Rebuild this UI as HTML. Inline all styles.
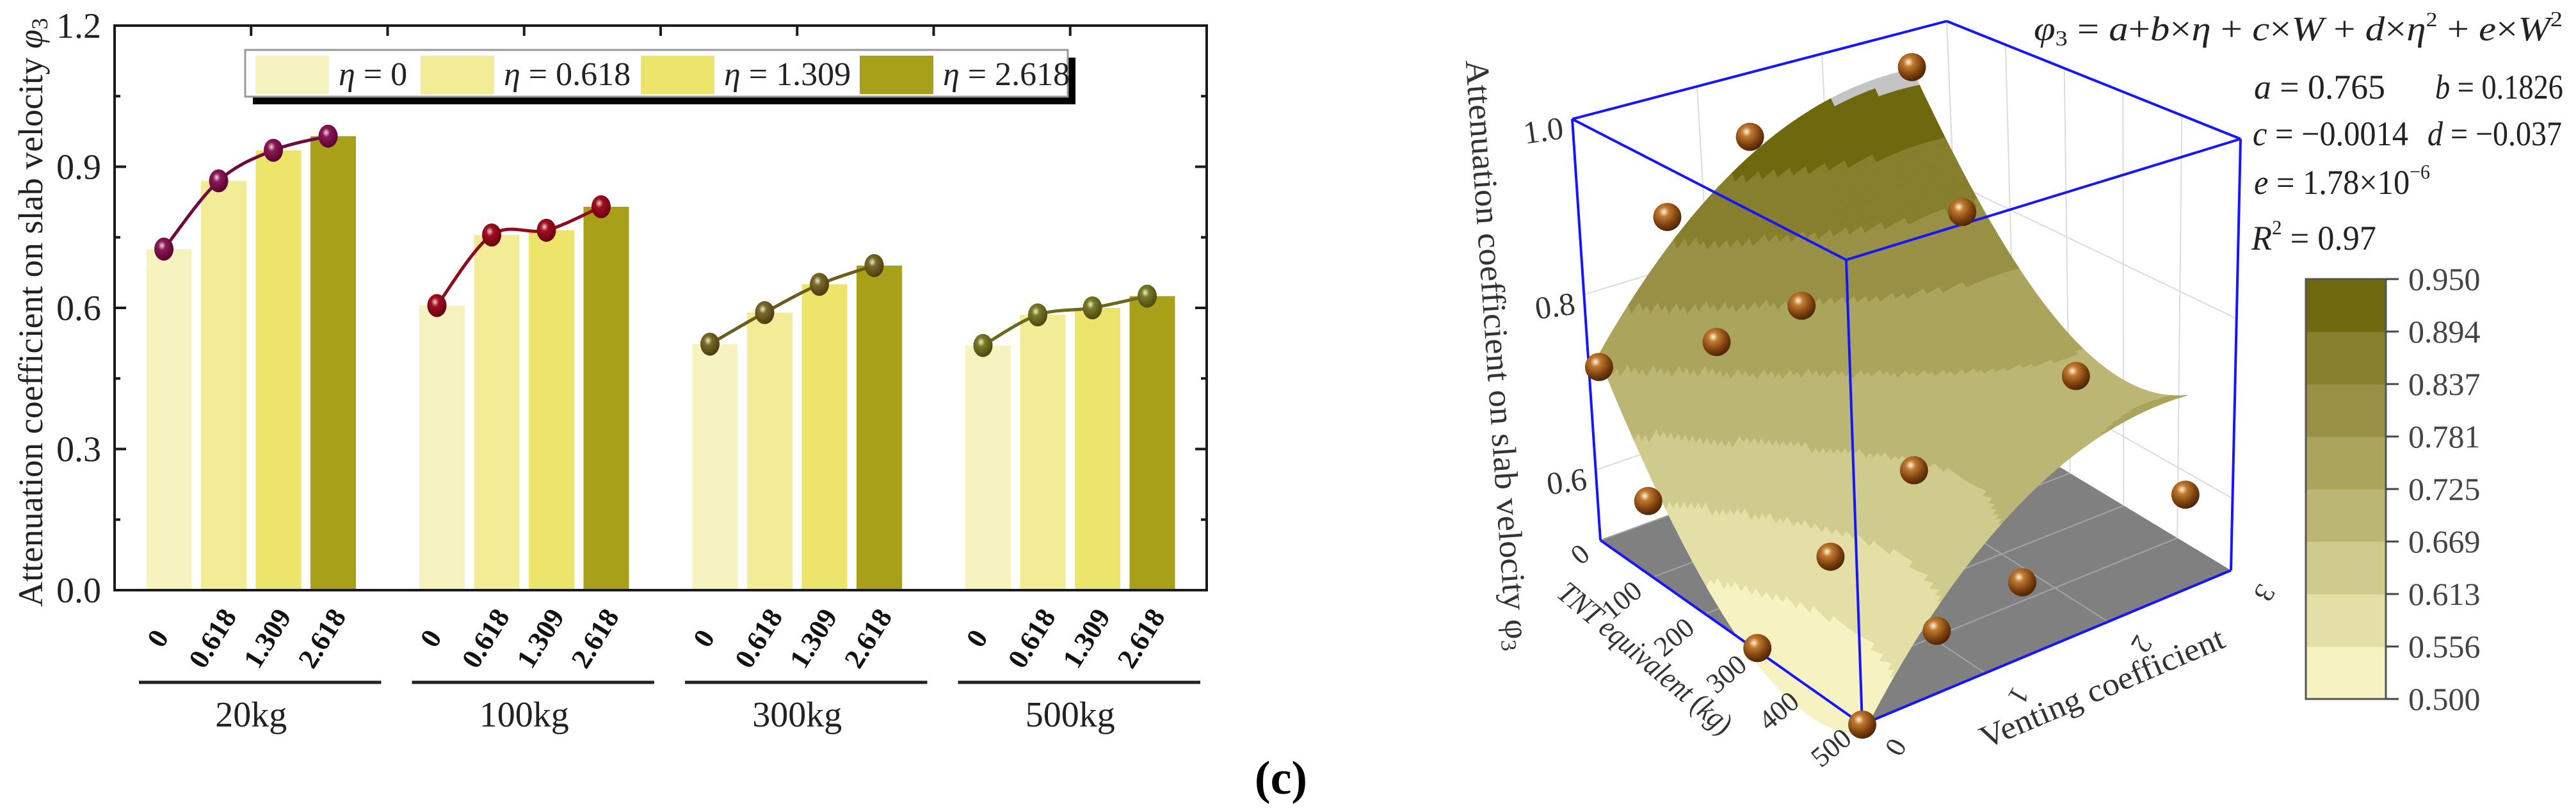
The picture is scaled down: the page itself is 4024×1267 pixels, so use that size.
<!DOCTYPE html>
<html><head><meta charset="utf-8">
<style>
html,body{margin:0;padding:0;background:#fff;}
svg{display:block;}
text{font-family:"Liberation Serif",serif;}
</style></head>
<body>
<svg id="fig" width="4024" height="1267" viewBox="0 0 4024 1267" xmlns="http://www.w3.org/2000/svg">
<defs>
<radialGradient id="gPurple" cx="0.4" cy="0.35" r="0.65"><stop offset="0" stop-color="#f0d8e4"/><stop offset="0.3" stop-color="#8a1a55"/><stop offset="1" stop-color="#5a0030"/></radialGradient>
<radialGradient id="gRed" cx="0.4" cy="0.35" r="0.65"><stop offset="0" stop-color="#f5d0d0"/><stop offset="0.3" stop-color="#a01020"/><stop offset="1" stop-color="#6a0010"/></radialGradient>
<radialGradient id="gBrown" cx="0.4" cy="0.35" r="0.65"><stop offset="0" stop-color="#f0ead0"/><stop offset="0.3" stop-color="#7a6a28"/><stop offset="1" stop-color="#4a3c10"/></radialGradient>
<radialGradient id="gOlive" cx="0.4" cy="0.35" r="0.65"><stop offset="0" stop-color="#f0f0d0"/><stop offset="0.3" stop-color="#7a7a28"/><stop offset="1" stop-color="#4a4a10"/></radialGradient>
<radialGradient id="gSphere" cx="0.38" cy="0.32" r="0.7"><stop offset="0" stop-color="#fff4dc"/><stop offset="0.25" stop-color="#c07a30"/><stop offset="0.7" stop-color="#7a3e0c"/><stop offset="1" stop-color="#4a2404"/></radialGradient>
</defs>
<g id="left"></g>
<g id="right"></g>
<text x="2001" y="1240" font-size="74" font-weight="bold" text-anchor="middle">(c)</text>
</svg>
<script>
// ---------- Left bar chart data ----------
const groups = ["20kg","100kg","300kg","500kg"];
const etaLabels = ["0","0.618","1.309","2.618"];
const legendLabels = ["η = 0","η = 0.618","η = 1.309","η = 2.618"];
const s20 = [0.725,0.870,0.935,0.965];
const s100 = [0.605,0.755,0.765,0.815];
const s300 = [0.523,0.590,0.650,0.690];
const s500 = [0.520,0.585,0.600,0.625];
const yTicks = [0,0.3,0.6,0.9,1.2];
const yTickLabels = ["0.0","0.3","0.6","0.9","1.2"];

const NS="http://www.w3.org/2000/svg";
function mk(tag,attrs,parent){const e=document.createElementNS(NS,tag);for(const k in attrs)e.setAttribute(k,attrs[k]);if(parent)parent.appendChild(e);return e;}

const L=document.getElementById('left');
const X0=179,X1=1885,YT=40,YB=922,YMAX=1.2;
const band=(X1-X0)/groups.length, bw=71, pitch=85.5;
function yS(v){return YB-v/YMAX*(YB-YT);}
function xBar(g,i){return X0+g*band+band/2+(i-1.5)*pitch;}
const barColors=["#f7f3c0","#f2ec97","#ede46c","#a8a018"];
const lineColors=["#6e0a40","#8e0c1c","#6e5a1e","#6a6a18"];
const markGrads=["url(#gPurple)","url(#gRed)","url(#gBrown)","url(#gOlive)"];
const series=[s20,s100,s300,s500];

series.forEach((vals,g)=>{
  vals.forEach((v,i)=>{
    const r=mk('rect',{x:xBar(g,i)-bw/2,y:yS(v),width:bw,height:YB-yS(v),fill:barColors[i]},L);
    
    
  });
});
const fr=mk('rect',{x:X0,y:YT,width:X1-X0,height:YB-YT,fill:'none',stroke:'#1a1a1a','stroke-width':4},L);


for(let k=0;k<=8;k++){
  const v=k*0.15, y=yS(v), len=(k%2===0)?18:9;
  mk('line',{x1:X0,y1:y,x2:X0+len,y2:y,stroke:'#1a1a1a','stroke-width':4},L);
  mk('line',{x1:X1,y1:y,x2:X1-len,y2:y,stroke:'#1a1a1a','stroke-width':4},L);
}
yTicks.forEach((v,i)=>{
  const t=mk('text',{x:158,y:yS(v)+19,'font-size':56,'text-anchor':'end',fill:'#222'},L);
  t.textContent=yTickLabels[i];
  
  
});
for(let k=1;k<8;k++){const x=X0+k*band/2;mk('line',{x1:x,y1:YT,x2:x,y2:YT+16,stroke:'#1a1a1a','stroke-width':4},L);}
const yt=mk('text',{x:0,y:0,'font-size':54,'text-anchor':'middle',transform:'translate(66,488) rotate(-90)',textLength:920,lengthAdjust:'spacingAndGlyphs',fill:'#222'},L);
yt.innerHTML='Attenuation coefficient on slab velocity <tspan font-style="italic">φ</tspan><tspan font-size="36" dy="8">3</tspan>';


function smoothPath(pts){let d='M'+pts[0][0]+','+pts[0][1];for(let i=0;i<pts.length-1;i++){const p0=pts[Math.max(0,i-1)],p1=pts[i],p2=pts[i+1],p3=pts[Math.min(pts.length-1,i+2)];const c1=[p1[0]+(p2[0]-p0[0])/6,p1[1]+(p2[1]-p0[1])/6],c2=[p2[0]-(p3[0]-p1[0])/6,p2[1]-(p3[1]-p1[1])/6];d+=' C'+c1+' '+c2+' '+p2;}return d;}
series.forEach((vals,g)=>{
  const pts=vals.map((v,i)=>[xBar(g,i)-8,yS(v)]);
  const p=mk('path',{d:smoothPath(pts),fill:'none',stroke:lineColors[g],'stroke-width':5},L);
  
  
  pts.forEach((q,i)=>{
    const c=mk('ellipse',{cx:q[0],cy:q[1],rx:15,ry:18,fill:markGrads[g]},L);
    
    
  });
});
mk('rect',{x:395,y:90,width:1285,height:73,fill:'#000'},L);
const lg=mk('rect',{x:383,y:78,width:1285,height:73,fill:'#fff',stroke:'#999','stroke-width':3},L);


const swX=[399,657,1001,1343];
legendLabels.forEach((lab,i)=>{
  const s=mk('rect',{x:swX[i],y:87,width:115,height:60,fill:barColors[i]},L);
  
  
  const t=mk('text',{x:swX[i]+130,y:133,'font-size':52,fill:'#222'},L);
  t.innerHTML='<tspan font-style="italic">η</tspan>'+lab.slice(1);
  
  
});
groups.forEach((gname,g)=>{
  etaLabels.forEach((lab,i)=>{
    const x=xBar(g,i)-5;
    const t=mk('text',{x:0,y:0,'font-size':44,'font-weight':'bold','text-anchor':'middle',transform:'translate('+x+',1005) rotate(-58)',fill:'#111'},L);
    t.textContent=lab;
    
    
  });
  const gx=X0+g*band;
  const ln=mk('line',{x1:gx+38,y1:1066,x2:gx+band-10,y2:1066,stroke:'#222','stroke-width':5},L);
  
  
  const t=mk('text',{x:gx+band/2,y:1135,'font-size':56,'text-anchor':'middle',fill:'#222'},L);
  t.textContent=gname;
  
  
});

// ---------- Right 3D surface chart ----------
const coefA=0.765, coefB=0.1826, coefC=-0.0014, coefD=-0.037, coefE=1.78e-6;
const contourLevels=[0.500,0.556,0.613,0.669,0.725,0.781,0.837,0.894,0.950];
const levelLabels=["0.500","0.556","0.613","0.669","0.725","0.781","0.837","0.894","0.950"];
const wTicks=[0,100,200,300,400,500];
const vTicks=[0,1,2,3];
const zTicks=[0.6,0.8,1.0];
const zTickLabels=["0.6","0.8","1.0"];
const ptW=[20,100,300,500];
const ptEta=[0,0.618,1.309,2.618];
const ptPhi20=s20, ptPhi100=s100, ptPhi300=s300, ptPhi500=s500;

const R=document.getElementById('right');
const bandColors=["#f6f2c2","#e3dfa7","#cfcb8c","#bcb674","#aaa45c","#989145","#857f2e","#6e680f"];
const BOT={bl:[2500,844],f:[2909,1132],r:[3485,891],b:[3066,638]};
const TOP={bl:[2456,186],f:[2884,406],r:[3500,217],b:[3041,33]};
const ZMIN=0.52,ZMAX=1.0;
function bil(C,u,t){const a=(1-u)*(1-t),b=u*(1-t),c=u*t,d=(1-u)*t;return [a*C.bl[0]+b*C.f[0]+c*C.r[0]+d*C.b[0],a*C.bl[1]+b*C.f[1]+c*C.r[1]+d*C.b[1]];}
function proj(W,v,z){const u=W/500,t=v/3,s=(z-ZMIN)/(ZMAX-ZMIN);const p=bil(BOT,u,t),q=bil(TOP,u,t);return [p[0]+(q[0]-p[0])*s,p[1]+(q[1]-p[1])*s];}
function fit(W,e){return coefA+coefB*e+coefC*W+coefD*e*e+coefE*W*W;}
function colorOf(z){if(z>contourLevels[8])return '#c4c4c4';for(let k=0;k<8;k++){if(z<contourLevels[k+1])return bandColors[k];}return bandColors[7];}
function P(pts){return pts.map(p=>p[0].toFixed(1)+','+p[1].toFixed(1)).join(' ');}

const floor=mk('polygon',{points:P([proj(0,0,ZMIN),proj(500,0,ZMIN),proj(500,3,ZMIN),proj(0,3,ZMIN)]),fill:'#808080'},R);


wTicks.forEach(W=>{const a=proj(W,0,ZMIN),b=proj(W,3,ZMIN);mk('line',{x1:a[0],y1:a[1],x2:b[0],y2:b[1],stroke:'#a4a4a4','stroke-width':2},R);});
[1,2].forEach(v=>{const a=proj(0,v,ZMIN),b=proj(500,v,ZMIN);mk('line',{x1:a[0],y1:a[1],x2:b[0],y2:b[1],stroke:'#a4a4a4','stroke-width':2},R);});
wTicks.forEach(W=>{const a=proj(W,3,ZMIN),b=proj(W,3,ZMAX);mk('line',{x1:a[0],y1:a[1],x2:b[0],y2:b[1],stroke:'#dcdcdc','stroke-width':2},R);});
vTicks.forEach(v=>{const a=proj(0,v,ZMIN),b=proj(0,v,ZMAX);mk('line',{x1:a[0],y1:a[1],x2:b[0],y2:b[1],stroke:'#dcdcdc','stroke-width':2},R);});
zTicks.forEach(z=>{const a=proj(0,0,z),b=proj(0,3,z),c=proj(500,3,z);mk('polyline',{points:P([a,b,c]),fill:'none',stroke:'#dcdcdc','stroke-width':2},R);});

const NW=80,NE=80,quads=[];
for(let i=0;i<NW;i++)for(let j=0;j<NE;j++){
  const W0=20+480*i/NW,W1=20+480*(i+1)/NW,E0=2.618*j/NE,E1=2.618*(j+1)/NE;
  const zc=fit((W0+W1)/2,(E0+E1)/2);
  quads.push({d:(W0+W1)/1000-(E0+E1)/6,pts:[proj(W0,E0,fit(W0,E0)),proj(W1,E0,fit(W1,E0)),proj(W1,E1,fit(W1,E1)),proj(W0,E1,fit(W0,E1))],c:colorOf(zc)});
}
quads.sort((a,b)=>a.d-b.d);
const SG=mk('g',{},R);


quads.forEach(q=>{mk('polygon',{points:P(q.pts),fill:q.c,stroke:q.c,'stroke-width':1.2,'stroke-linejoin':'round'},SG);});

function edge(a,b,name){const l=mk('line',{x1:a[0],y1:a[1],x2:b[0],y2:b[1],stroke:'#1515ff','stroke-width':4},R);}
edge(proj(0,0,ZMAX),proj(500,0,ZMAX),'box-edge');
edge(proj(500,0,ZMAX),proj(500,3,ZMAX),'box-edge');
edge(proj(500,3,ZMAX),proj(0,3,ZMAX),'box-edge');
edge(proj(0,3,ZMAX),proj(0,0,ZMAX),'box-edge');
edge(proj(0,0,ZMIN),proj(0,0,ZMAX),'box-edge');
edge(proj(500,0,ZMIN),proj(500,0,ZMAX),'box-edge');
edge(proj(500,3,ZMIN),proj(500,3,ZMAX),'box-edge');
edge(proj(0,0,ZMIN),proj(500,0,ZMIN),'w-axis-line');
edge(proj(500,0,ZMIN),proj(500,3,ZMIN),'venting-axis-line');

[ptPhi20,ptPhi100,ptPhi300,ptPhi500].forEach((arr,gi)=>{
  arr.forEach((z,ei)=>{
    const p=proj(ptW[gi],ptEta[ei],z);
    const c=mk('circle',{cx:p[0],cy:p[1],r:22,fill:'url(#gSphere)'},R);
    
    
  });
});

zTicks.forEach((z,i)=>{const p=proj(0,0,z);const t=mk('text',{x:0,y:0,'font-size':50,'text-anchor':'end',transform:'translate('+(p[0]-12)+','+(p[1]+30)+') rotate(-8)',fill:'#333'},R);t.textContent=zTickLabels[i];});
wTicks.forEach(W=>{const p=proj(W,0,ZMIN);const t=mk('text',{x:0,y:0,'font-size':44,'text-anchor':'end',transform:'translate('+(p[0]-14)+','+(p[1]+26)+') rotate(-40)',fill:'#333'},R);t.textContent=String(W);});
vTicks.forEach(v=>{const p=proj(500,v,ZMIN);const t=mk('text',{x:0,y:0,'font-size':44,'text-anchor':'middle',transform:'translate('+(p[0]+40)+','+(p[1]+28)+') rotate(120)',fill:'#333'},R);t.textContent=String(v);});

const zt=mk('text',{x:0,y:0,'font-size':52,'text-anchor':'middle',transform:'translate(2322,556) rotate(86)',textLength:925,lengthAdjust:'spacingAndGlyphs',fill:'#333'},R);
zt.innerHTML='Attenuation coefficient on slab velocity φ<tspan font-size="34" dy="8">3</tspan>';


const wt=mk('text',{x:0,y:0,'font-size':48,'text-anchor':'middle',transform:'translate(2560,1040) rotate(40)',textLength:340,lengthAdjust:'spacingAndGlyphs',fill:'#333'},R);
wt.innerHTML='<tspan font-style="italic">TNT equivalent</tspan> (<tspan font-style="italic">kg</tspan>)';


const vt=mk('text',{x:0,y:0,'font-size':50,'text-anchor':'middle',transform:'translate(3290,1090) rotate(-23)',textLength:410,lengthAdjust:'spacingAndGlyphs',fill:'#333'},R);
vt.textContent='Venting coefficient';



const CBX=3602,CBW=125,CBT=436,CBB=1092,step=(CBB-CBT)/8;
bandColors.forEach((c,k)=>{const r=mk('rect',{x:CBX,y:CBB-(k+1)*step,width:CBW,height:step+0.5,fill:c},R);});
const cbf=mk('rect',{x:CBX,y:CBT,width:CBW,height:CBB-CBT,fill:'none',stroke:'#555','stroke-width':3},R);


levelLabels.forEach((lab,k)=>{const y=CBB-k*step;mk('line',{x1:CBX+CBW,y1:y,x2:CBX+CBW+20,y2:y,stroke:'#444','stroke-width':3},R);const t=mk('text',{x:3762,y:y+17,'font-size':50,fill:'#444'},R);t.textContent=lab;});

function tx(x,y,html,len,name){const t=mk('text',{x:x,y:y,'font-size':54,fill:'#222'},R);if(len){t.setAttribute('textLength',len);t.setAttribute('lengthAdjust','spacingAndGlyphs');}t.innerHTML=html;}
tx(3177,63,'<tspan font-style="italic">φ</tspan><tspan font-size="34" dy="8">3</tspan><tspan dy="-8"> = </tspan><tspan font-style="italic">a</tspan>+<tspan font-style="italic">b</tspan>×<tspan font-style="italic">η</tspan> + <tspan font-style="italic">c</tspan>×<tspan font-style="italic">W</tspan> + <tspan font-style="italic">d</tspan>×<tspan font-style="italic">η</tspan><tspan font-size="32" dy="-22">2</tspan><tspan dy="22"> + </tspan><tspan font-style="italic">e</tspan>×<tspan font-style="italic">W</tspan><tspan font-size="34" dy="-22">2</tspan>',826,'fit-equation');
tx(3521,154,'<tspan font-style="italic">a</tspan> = 0.765',205,'coef-a');
tx(3804,154,'<tspan font-style="italic">b</tspan> = 0.1826',200,'coef-b');
tx(3519,227,'<tspan font-style="italic">c</tspan> = −0.0014',243,'coef-c');
tx(3792,227,'<tspan font-style="italic">d</tspan> = −0.037',210,'coef-d');
tx(3521,303,'<tspan font-style="italic">e</tspan> = 1.78×10<tspan font-size="32" dy="-24">−6</tspan>',275,'coef-e');
tx(3517,390,'<tspan font-style="italic">R</tspan><tspan font-size="32" dy="-24">2</tspan><tspan dy="24"> = 0.97</tspan>',195,'r-squared');
</script>
</body></html>
